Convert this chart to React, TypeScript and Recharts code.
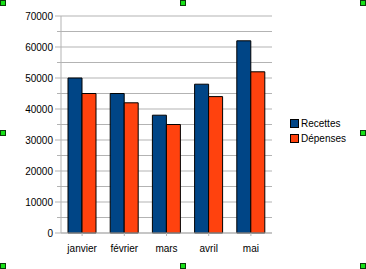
import React from "react";
import { BarChart, Bar, XAxis, YAxis, CartesianGrid, Customized } from "recharts";

const months = ["janvier", "février", "mars", "avril", "mai"];
const recettes = [50000, 45000, 38000, 48000, 62000];
const depenses = [45000, 42000, 35000, 44000, 52000];
const yTicks = [0, 5000, 10000, 15000, 20000, 25000, 30000, 35000, 40000, 45000, 50000, 55000, 60000, 65000, 70000];
const seriesNames = ["Recettes", "Dépenses"];
const seriesColors = ["#004586", "#ff420e"];

const data = months.map((m, i) => ({ month: m, Recettes: recettes[i], Dépenses: depenses[i] }));

const FONT = "'Liberation Sans', Arial, sans-serif";
const GRID = "#b3b3b3";
const TICK_SIZE = 6;
const TICK_MARGIN = 2;

const YTick = (props: any) => {
  const { x, y, payload } = props;
  const axisX = x + TICK_SIZE + TICK_MARGIN;
  const major = payload.value % 10000 === 0;
  const len = major ? 6 : 4;
  return (
    <g>
      <line x1={axisX - len} x2={axisX} y1={y} y2={y} stroke={GRID} strokeWidth={1} />
      {major && (
        <text x={axisX - 8} y={y} dy="0.36em" textAnchor="end" fontFamily={FONT} fontSize={10} fill="#000">
          {payload.value}
        </text>
      )}
    </g>
  );
};

const LegendBox = () => (
  <div style={{ position: "absolute", left: 290, top: 116, fontFamily: FONT, fontSize: 10, color: "#000" }}>
    {seriesNames.map((n, i) => (
      <div key={n} style={{ display: "flex", alignItems: "center", height: 15, whiteSpace: "nowrap" }}>
        <span
          style={{
            display: "inline-block",
            width: 7,
            height: 7,
            background: seriesColors[i],
            border: "1px solid #000",
            marginRight: 2,
          }}
        />
        <span>{n}</span>
      </div>
    ))}
  </div>
);

const Handles = () => {
  const xs = [0, 180, 360];
  const ys = [0, 130, 263];
  const out: any[] = [];
  ys.forEach((y, yi) =>
    xs.forEach((x, xi) => {
      if (xi === 1 && yi === 1) return;
      out.push(
        <rect key={`${x}-${y}`} x={x + 0.5} y={y + 0.5} width={5} height={5} fill="#18e018" stroke="#0a3a0a" strokeWidth={1} />
      );
    })
  );
  return <g>{out}</g>;
};

export default function App() {
  return (
    <div style={{ position: "absolute", left: 0, top: 0, width: 366, height: 269, background: "#fff" }}>
      <BarChart
        width={366}
        height={269}
        data={data}
        margin={{ top: 16, right: 94, bottom: 0, left: 0 }}
        barCategoryGap={7}
        barGap={0}
      >
        <CartesianGrid vertical={false} stroke={GRID} strokeWidth={1} />
        <XAxis
          dataKey="month"
          height={36}
          axisLine={{ stroke: GRID }}
          tickLine={{ stroke: GRID }}
          tickSize={3}
          tickMargin={9}
          tick={{ fontFamily: FONT, fontSize: 10, fill: "#000" }}
          interval={0}
        />
        <YAxis
          width={61}
          domain={[0, 70000]}
          ticks={yTicks}
          interval={0}
          axisLine={{ stroke: GRID }}
          tickLine={false}
          tickSize={TICK_SIZE}
          tickMargin={TICK_MARGIN}
          tick={<YTick />}
        />
        <YAxis
          yAxisId="right"
          orientation="right"
          width={0}
          domain={[0, 70000]}
          tick={false}
          tickLine={false}
          axisLine={{ stroke: GRID }}
        />
        {seriesNames.map((n, i) => (
          <Bar key={n} dataKey={n} fill={seriesColors[i]} stroke="#000" strokeWidth={1} isAnimationActive={false} />
        ))}
        <Customized component={<Handles />} />
      </BarChart>
      <LegendBox />
    </div>
  );
}
